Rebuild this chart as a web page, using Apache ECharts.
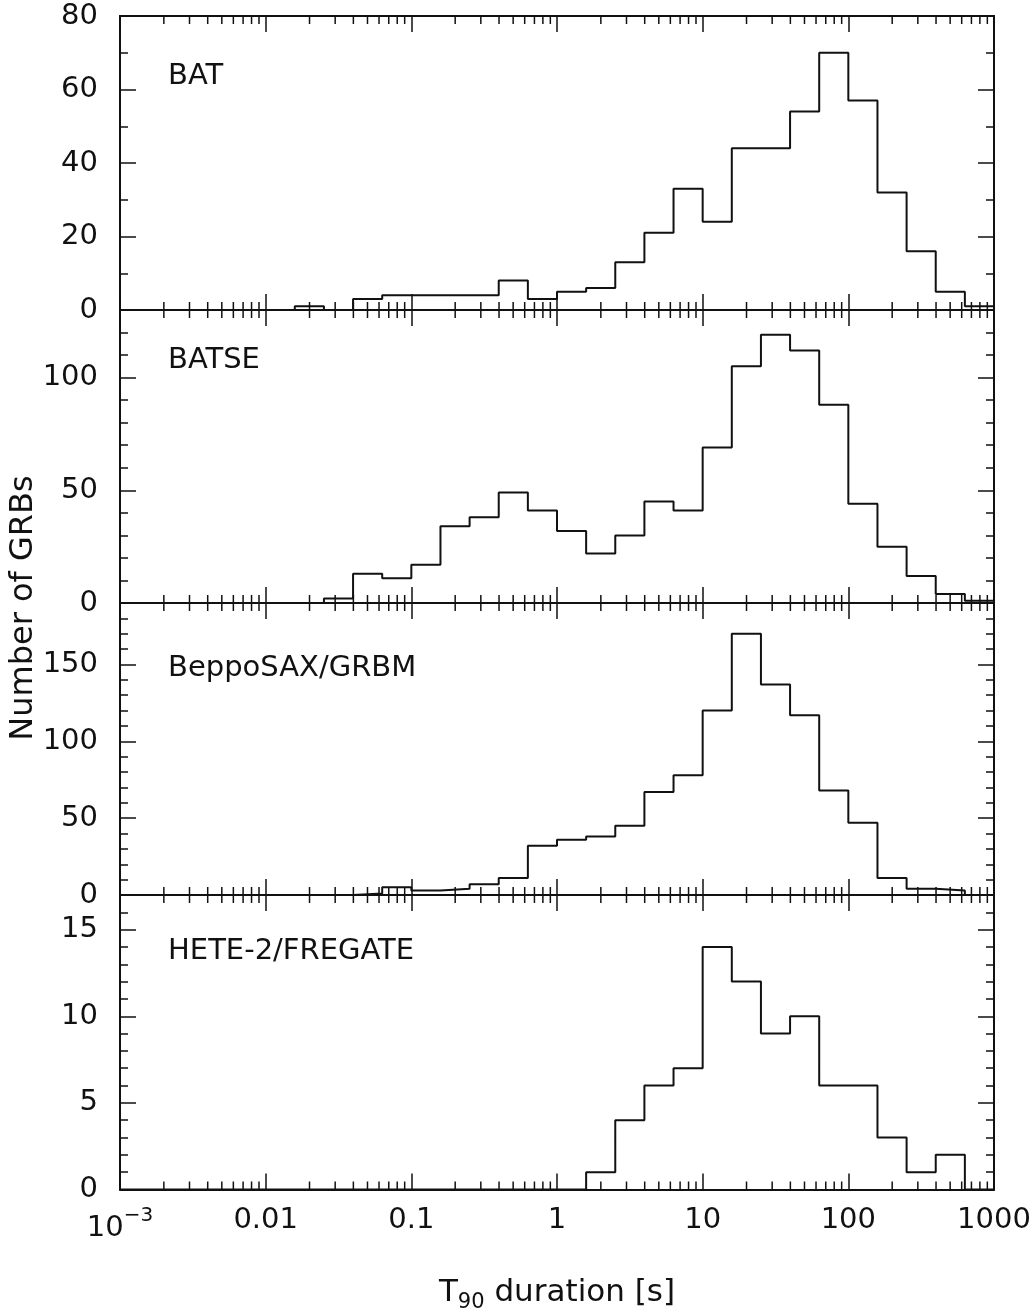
<!DOCTYPE html>
<html><head><meta charset="utf-8">
<script src="https://cdn.jsdelivr.net/npm/echarts@6/dist/echarts.min.js"></script>
<style>html,body{margin:0;padding:0;background:#fff}#c{width:1036px;height:1316px}</style>
</head><body><div id="c"></div>
<script>
// bin edges in log10(T90 / s)
const binLogEdges = [-3.0,-2.8,-2.6,-2.4,-2.2,-2.0,-1.8,-1.6,-1.4,-1.2,-1.0,-0.8,-0.6,-0.4,-0.2,0.0,0.2,0.4,0.6,0.8,1.0,1.2,1.4,1.6,1.8,2.0,2.2,2.4,2.6,2.8,3.0];
const panelNames = ['BAT','BATSE','BeppoSAX/GRBM','HETE-2/FREGATE'];
const batCounts   = [0,0,0,0,0,0,1,0,3,4,4,4,4,8,3,5,6,13,21,33,24,44,44,54,70,57,32,16,5,1];
const batseCounts = [0,0,0,0,0,0,0,2,13,11,17,34,38,49,41,32,22,30,45,41,69,105,119,112,88,44,25,12,4,1];
const saxCounts   = [0,0,0,0,0,0,0,0,1,5,3,4,7,11,32,36,38,45,67,78,120,170,137,117,68,47,11,4,3,0];
const heteCounts  = [0,0,0,0,0,0,0,0,0,0,0,0,0,0,0,0,1,4,6,7,14,12,9,10,6,6,3,1,2,0];
const yMax   = [80,130,190,17];
const yMajor = [20,50,50,5];
const yMinor = [10,10,10,1];
const xTickLabels = ['10{s|\u22123}','0.01','0.1','1','10','100','1000'];
const xTitle = '{t|T}{u|90}{t| duration [s]}';
const yTitle = 'Number of GRBs';

const allCounts = [batCounts, batseCounts, saxCounts, heteCounts];
const FONT = 'DejaVu Sans';
const INK = '#111';
const gridTops = [16, 310, 603, 895];
const gridHeights = [294, 293, 292, 294.5];
const LEFT = 120, RIGHT = 42;

function histData(counts){
  const d = counts.map((c,i)=>[Math.pow(10, binLogEdges[i]), c]);
  d.push([Math.pow(10, binLogEdges[binLogEdges.length-1]), 0]);
  return d;
}
const minorX = [];
for (let dec=-3; dec<3; dec++) for (let m=2; m<=9; m++) minorX.push([m*Math.pow(10,dec), 0]);

function minorTicks(params, api){
  const cs = params.coordSys;
  const x = api.coord([api.value(0), 0])[0];
  const b = cs.y + cs.height, t = cs.y;
  return {type:'group', children:[
    {type:'line', shape:{x1:x,y1:b,x2:x,y2:b-8}, style:{stroke:INK,lineWidth:1.5}},
    {type:'line', shape:{x1:x,y1:t,x2:x,y2:t+8}, style:{stroke:INK,lineWidth:1.5}}
  ]};
}

const grid = [], xAxis = [], yAxis = [], series = [], graphic = [];
const lineStyle = {color: INK, width: 2};
for (let i=0;i<4;i++){
  grid.push({left: LEFT, right: RIGHT, top: gridTops[i], height: gridHeights[i], outerBoundsMode: 'none'});
  const xBase = {type:'log', logBase:10, min:0.001, max:1000, gridIndex:i, splitNumber:6,
    splitLine:{show:false}, axisLine:{show:true, onZero:false, lineStyle},
    axisTick:{show:true, inside:true, length:16, lineStyle:{color:INK,width:1.5}}};
  xAxis.push(Object.assign({}, xBase, {position:'bottom',
    axisLabel: i===3 ? {show:true, margin:16, fontSize:29, fontFamily:FONT, color:INK,
      formatter: v => xTickLabels[Math.round(Math.log10(v))+3],
      rich:{s:{fontSize:20, fontFamily:FONT, color:INK, padding:[0,0,26,0]}}} : {show:false}}));
  xAxis.push(Object.assign({}, xBase, {position:'top', axisLabel:{show:false}}));
  const yBase = {type:'value', min:0, max:yMax[i], gridIndex:i, splitLine:{show:false},
    axisLine:{show:true, onZero:false, lineStyle}};
  yAxis.push(Object.assign({}, yBase, {position:'left', interval:yMajor[i],
    axisTick:{show:true, inside:true, length:16, lineStyle:{color:INK,width:1.5}},
    axisLabel:{show:true, margin:22, fontSize:29, fontFamily:FONT, color:INK,
      showMaxLabel: i===0, showMinLabel:true}}));
  yAxis.push(Object.assign({}, yBase, {position:'left', interval:yMinor[i],
    axisTick:{show:true, inside:true, length:8, lineStyle:{color:INK,width:1.5}}, axisLabel:{show:false}}));
  yAxis.push(Object.assign({}, yBase, {position:'right', interval:yMajor[i],
    axisTick:{show:true, inside:true, length:16, lineStyle:{color:INK,width:1.5}}, axisLabel:{show:false}}));
  yAxis.push(Object.assign({}, yBase, {position:'right', interval:yMinor[i],
    axisTick:{show:true, inside:true, length:8, lineStyle:{color:INK,width:1.5}}, axisLabel:{show:false}}));
  series.push({type:'line', xAxisIndex:2*i, yAxisIndex:4*i, step:'end', symbol:'none',
    data: histData(allCounts[i]), lineStyle:{color:INK, width:2}, z:5});
  series.push({type:'custom', xAxisIndex:2*i, yAxisIndex:4*i, data:minorX, renderItem:minorTicks,
    silent:true, clip:false, z:4});
}
const labelY = [76, 360, 668, 951];
for (let i=0;i<4;i++){
  graphic.push({type:'text', x:168, y:labelY[i], style:{text:panelNames[i], font:'29px "'+FONT+'"', fill:INK,
    textAlign:'left', textVerticalAlign:'middle'}});
}
graphic.push({type:'text', x:24, y:608, rotation:Math.PI/2, style:{text:yTitle, font:'32px "'+FONT+'"', fill:INK,
  textAlign:'center', textVerticalAlign:'middle'}});
graphic.push({type:'text', x:557, y:1293, style:{text:xTitle, fill:INK, textAlign:'center', textVerticalAlign:'middle',
  rich:{t:{fontSize:31, fontFamily:FONT, color:INK}, u:{fontSize:21, fontFamily:FONT, color:INK, padding:[20,0,0,0]}}}});

const chart = echarts.init(document.getElementById('c'), null, {renderer:'canvas'});
chart.setOption({animation:false, backgroundColor:'#fff', grid, xAxis, yAxis, series, graphic});
</script></body></html>
